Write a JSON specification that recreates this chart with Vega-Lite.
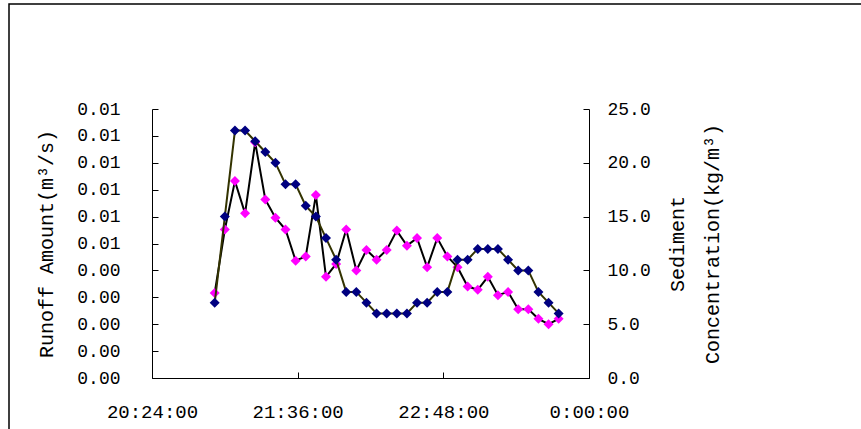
{
  "$schema": "https://vega.github.io/schema/vega-lite/v6.json",
  "width": 860,
  "height": 430,
  "autosize": {"type": "none"},
  "padding": {"left": 9, "top": 4, "right": 0, "bottom": 0},
  "background": "white",
  "config": {
    "view": {"stroke": "black", "strokeWidth": 1.5},
    "axis": {
      "grid": false,
      "domainColor": "black",
      "domainWidth": 1,
      "tickColor": "black",
      "tickWidth": 1,
      "tickSize": -6,
      "labelFont": "Liberation Mono",
      "labelColor": "black",
      "titleFont": "Liberation Mono",
      "titleFontWeight": "normal",
      "titleColor": "black",
      "labelOverlap": false,
      "labelBound": false,
      "labelFlush": false
    }
  },
  "data": {
    "values": [
      {"time": "2020-01-01T20:55:00", "runoff": 0.0028, "sediment": 7.9},
      {"time": "2020-01-01T21:00:00", "runoff": 0.0060, "sediment": 13.8},
      {"time": "2020-01-01T21:05:00", "runoff": 0.0092, "sediment": 18.3},
      {"time": "2020-01-01T21:10:00", "runoff": 0.0092, "sediment": 15.3},
      {"time": "2020-01-01T21:15:00", "runoff": 0.0088, "sediment": 21.9},
      {"time": "2020-01-01T21:20:00", "runoff": 0.0084, "sediment": 16.6},
      {"time": "2020-01-01T21:25:00", "runoff": 0.0080, "sediment": 14.9},
      {"time": "2020-01-01T21:30:00", "runoff": 0.0072, "sediment": 13.8},
      {"time": "2020-01-01T21:35:00", "runoff": 0.0072, "sediment": 10.9},
      {"time": "2020-01-01T21:40:00", "runoff": 0.0064, "sediment": 11.3},
      {"time": "2020-01-01T21:45:00", "runoff": 0.0060, "sediment": 17.0},
      {"time": "2020-01-01T21:50:00", "runoff": 0.0052, "sediment": 9.4},
      {"time": "2020-01-01T21:55:00", "runoff": 0.0044, "sediment": 10.6},
      {"time": "2020-01-01T22:00:00", "runoff": 0.0032, "sediment": 13.8},
      {"time": "2020-01-01T22:05:00", "runoff": 0.0032, "sediment": 10.0},
      {"time": "2020-01-01T22:10:00", "runoff": 0.0028, "sediment": 11.9},
      {"time": "2020-01-01T22:15:00", "runoff": 0.0024, "sediment": 11.0},
      {"time": "2020-01-01T22:20:00", "runoff": 0.0024, "sediment": 11.9},
      {"time": "2020-01-01T22:25:00", "runoff": 0.0024, "sediment": 13.7},
      {"time": "2020-01-01T22:30:00", "runoff": 0.0024, "sediment": 12.3},
      {"time": "2020-01-01T22:35:00", "runoff": 0.0028, "sediment": 13.0},
      {"time": "2020-01-01T22:40:00", "runoff": 0.0028, "sediment": 10.3},
      {"time": "2020-01-01T22:45:00", "runoff": 0.0032, "sediment": 13.0},
      {"time": "2020-01-01T22:50:00", "runoff": 0.0032, "sediment": 11.3},
      {"time": "2020-01-01T22:55:00", "runoff": 0.0044, "sediment": 10.3},
      {"time": "2020-01-01T23:00:00", "runoff": 0.0044, "sediment": 8.5},
      {"time": "2020-01-01T23:05:00", "runoff": 0.0048, "sediment": 8.2},
      {"time": "2020-01-01T23:10:00", "runoff": 0.0048, "sediment": 9.4},
      {"time": "2020-01-01T23:15:00", "runoff": 0.0048, "sediment": 7.7},
      {"time": "2020-01-01T23:20:00", "runoff": 0.0044, "sediment": 8.0},
      {"time": "2020-01-01T23:25:00", "runoff": 0.0040, "sediment": 6.4},
      {"time": "2020-01-01T23:30:00", "runoff": 0.0040, "sediment": 6.4},
      {"time": "2020-01-01T23:35:00", "runoff": 0.0032, "sediment": 5.5},
      {"time": "2020-01-01T23:40:00", "runoff": 0.0028, "sediment": 5.0},
      {"time": "2020-01-01T23:45:00", "runoff": 0.0024, "sediment": 5.5}
    ]
  },
  "encoding": {
    "x": {
      "field": "time",
      "type": "temporal",
      "scale": {
        "domain": [
          {"year": 2020, "month": 1, "date": 1, "hours": 20, "minutes": 24},
          {"year": 2020, "month": 1, "date": 2, "hours": 0, "minutes": 0}
        ],
        "range": [143, 580]
      },
      "axis": {
        "orient": "bottom",
        "offset": -56,
        "title": null,
        "format": "%-H:%M:%S",
        "labelFontSize": 19,
        "labelPadding": 30,
        "values": [
          {"year": 2020, "month": 1, "date": 1, "hours": 20, "minutes": 24},
          {"year": 2020, "month": 1, "date": 1, "hours": 21, "minutes": 36},
          {"year": 2020, "month": 1, "date": 1, "hours": 22, "minutes": 48},
          {"year": 2020, "month": 1, "date": 2, "hours": 0, "minutes": 0}
        ]
      }
    }
  },
  "layer": [
    {
      "encoding": {
        "y": {
          "field": "sediment",
          "type": "quantitative",
          "scale": {"domain": [0, 25], "range": [374, 105]},
          "axis": {
            "orient": "right",
            "offset": -280,
            "values": [0, 5, 10, 15, 20, 25],
            "format": ".1f",
            "labelFontSize": 18,
            "labelPadding": 24,
            "title": ["Sediment", "Concentration(kg/m³)"],
            "titleFontSize": 20,
            "titleAngle": 270,
            "titleBaseline": "top",
            "titleAlign": "center",
            "titleLineHeight": 35,
            "titlePadding": -18
          }
        }
      },
      "layer": [
        {"mark": {"type": "line", "color": "black", "strokeWidth": 2}},
        {"mark": {"type": "point", "shape": "diamond", "filled": true, "opacity": 1, "size": 100, "color": "#FF00FF"}}
      ]
    },
    {
      "encoding": {
        "y": {
          "field": "runoff",
          "type": "quantitative",
          "scale": {"domain": [0, 0.01], "range": [374, 105]},
          "axis": {
            "orient": "left",
            "offset": -143,
            "values": [0, 0.001, 0.002, 0.003, 0.004, 0.005, 0.006, 0.007, 0.008, 0.009, 0.01],
            "format": ".2f",
            "labelFontSize": 18,
            "labelPadding": 38,
            "title": "Runoff Amount(m³/s)",
            "titleFontSize": 20,
            "titlePadding": 20
          }
        }
      },
      "layer": [
        {"mark": {"type": "line", "color": "#333300", "strokeWidth": 2}},
        {"mark": {"type": "point", "shape": "diamond", "filled": true, "opacity": 1, "size": 100, "color": "#000080"}}
      ]
    }
  ],
  "resolve": {"scale": {"y": "independent"}, "axis": {"y": "independent"}}
}
